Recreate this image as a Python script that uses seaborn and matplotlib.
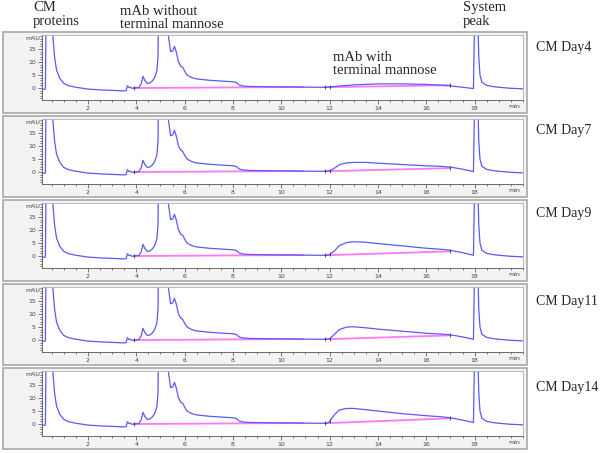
import numpy as np
import matplotlib
matplotlib.use('Agg')
import matplotlib.pyplot as plt
from matplotlib.patches import Rectangle
from matplotlib.ticker import MultipleLocator
import seaborn as sb

sb.set_style('white')
plt.rcParams['font.family'] = ['DejaVu Sans']

days = ['CM Day4', 'CM Day7', 'CM Day9', 'CM Day11', 'CM Day14']

# shared part of the trace, 0 - 12 min (mAU)
early_t = [0.10, 0.20, 0.24, 0.28, 0.50, 0.55, 0.62, 0.70, 0.83, 1.0, 1.2, 1.5, 2.0, 2.5, 3.0,
           3.5, 3.58, 3.63, 3.70, 3.76, 3.82, 3.9, 4.1, 4.2, 4.28, 4.35, 4.45, 4.55, 4.65,
           4.75, 4.85, 4.90, 4.93, 5.28, 5.33, 5.42, 5.50, 5.58, 5.65, 5.75, 5.85, 5.92, 6.0,
           6.1, 6.3, 6.5, 7.0, 7.5, 8.0, 8.15, 8.25, 8.4, 8.7, 9.5, 10.5, 11.5, 11.9]
early_v = [-0.5, -0.5, -0.3, 40, 40, 20, 12, 7, 3.8, 1.8, 0.9, 0.3, -0.4, -0.7, -0.9,
           -1.1, -1.0, 0.9, 0.2, 0.3, -0.1, 0.0, 0.2, 1.5, 4.5, 3.0, 1.8, 1.9, 2.6,
           3.8, 6.5, 12, 40, 40, 20, 14, 14.2, 16, 14, 10, 8.3, 8.0, 6.5,
           5.0, 4.0, 3.5, 3.0, 2.7, 2.4, 2.1, 1.2, 0.8, 0.6, 0.5, 0.4, 0.3, 0.3]

# mannose hump 12 - 17.95 min, one list per day
hump_t = [12.0, 12.2, 12.4, 12.7, 13.0, 13.5, 14.0, 15.0, 16.0, 16.6, 17.0, 17.5, 17.95]
hump_day4 = [0.4, 0.6, 0.8, 1.0, 1.2, 1.4, 1.6, 1.6, 1.4, 1.1, 0.8, 0.3, -0.2]
hump_day7 = [0.4, 1.5, 2.8, 3.5, 3.7, 3.7, 3.4, 2.9, 2.4, 2.2, 1.9, 1.1, 0.2]
hump_day9 = [0.6, 2.0, 4.0, 5.2, 5.5, 5.3, 4.8, 3.9, 3.0, 2.6, 2.2, 1.3, 0.3]
hump_day11 = [0.5, 2.2, 4.0, 5.0, 5.1, 4.7, 4.2, 3.4, 2.6, 2.3, 2.0, 1.2, 0.3]
hump_day14 = [1.0, 3.6, 5.4, 6.0, 6.0, 5.5, 5.0, 4.0, 3.2, 2.8, 2.4, 1.5, 0.6]
humps = [hump_day4, hump_day7, hump_day9, hump_day11, hump_day14]

# system peak
sys_t = [18.02, 18.1, 18.17, 18.22, 18.3, 18.5, 18.8, 19.0, 19.5, 20.0]
sys_v = [40, 40, 12, 5, 2.2, 1.0, 0.5, 0.3, -0.1, -0.3]

# integration baselines
base1_t = [3.9, 10.9]
base1_v = [0.0, 0.4]
base2_t = [11.8, 17.0]
base2_end = [1.1, 1.5, 1.8, 1.8, 2.2]
base2_start = 0.3

W, H = 600, 453
fig = plt.figure(figsize=(6, 4.53), dpi=100)

def fx(px):
    return px / W

def fy(py):
    return 1 - py / H

blue = '#5a5af5'
pink = '#ff78f5'
label_y = [48, 131, 214, 302, 388]

for i, day in enumerate(days):
    top = 32 + 84 * i
    fig.patches.append(Rectangle((fx(3), fy(top + 81)), 524 / W, 81 / H,
                                 transform=fig.transFigure, facecolor='#f3f3f3',
                                 edgecolor='#a8a8a8', lw=1.2, zorder=-5))
    ax = fig.add_axes([fx(42), fy(top + 68), (523 - 42) / W, 65 / H])
    ax.set_zorder(2)
    ax.set_facecolor('white')

    t = early_t + hump_t + sys_t
    v = early_v + humps[i] + sys_v
    sb.lineplot(x=base1_t, y=base1_v, ax=ax, color=pink, lw=1.3)
    sb.lineplot(x=base2_t, y=[base2_start, base2_end[i]], ax=ax, color=pink, lw=1.3)
    sb.lineplot(x=t, y=v, ax=ax, color=blue, lw=0.9, sort=False, estimator=None)
    ax.scatter([3.9, 11.8, 12.0, 17.0], [0.0, base2_start, humps[i][0], base2_end[i]],
               marker='|', s=5, color='#222222', lw=0.5, zorder=5)

    ax.set_xlim(0.1, 20.0)
    ax.set_ylim(-4.6, 20.4)
    ax.set_xticks([2, 4, 6, 8, 10, 12, 14, 16, 18])
    ax.xaxis.set_minor_locator(MultipleLocator(0.5))
    ax.set_yticks([0, 5, 10, 15])
    ax.yaxis.set_minor_locator(MultipleLocator(1))
    ax.tick_params(which='both', direction='out', labelsize=4.5, colors='#444444',
                   bottom=True, left=True, pad=1.5)
    ax.tick_params(which='major', length=3, width=0.5)
    ax.tick_params(which='minor', length=1.5, width=0.5)
    for side in ['left', 'bottom']:
        ax.spines[side].set_color('#555555')
        ax.spines[side].set_linewidth(0.6)
    for side in ['top', 'right']:
        ax.spines[side].set_color('#b0b0b0')
        ax.spines[side].set_linewidth(0.6)
    ax.set_xlabel('')
    ax.set_ylabel('')
    fig.text(fx(40), fy(top + 7), 'mAU', fontsize=4.5, color='#444444', ha='right', va='center')
    fig.text(fx(520), fy(top + 75), 'min', fontsize=4.5, color='#444444', ha='right', va='center')

    fig.text(fx(536), fy(label_y[i]), day, family='Liberation Serif', fontsize=10,
             ha='left', va='center')

fig.text(fx(33), fy(1), 'CM\nproteins', family='Liberation Serif', fontsize=10.5,
         ha='left', va='top', linespacing=1.15)
fig.text(fx(120), fy(5), 'mAb without\nterminal mannose', family='Liberation Serif',
         fontsize=10.5, ha='left', va='top', linespacing=1.05)
fig.text(fx(463), fy(1), 'System\npeak', family='Liberation Serif', fontsize=10.5,
         ha='left', va='top', linespacing=1.15)
fig.text(fx(333), fy(51), 'mAb with\nterminal mannose', family='Liberation Serif',
         fontsize=10.5, ha='left', va='top', linespacing=1.05)

fig.savefig('out.png', dpi=100)
